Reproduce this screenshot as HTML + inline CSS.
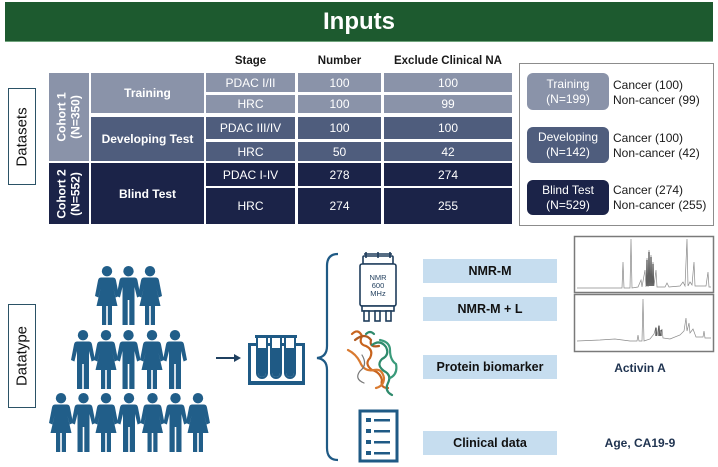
<!DOCTYPE html>
<html><head><meta charset="utf-8"><style>
*{margin:0;padding:0;box-sizing:border-box}
body{width:718px;height:467px;background:#fff;position:relative;overflow:hidden;font-family:"Liberation Sans",Arial,sans-serif}
.a{position:absolute}
.c{position:absolute;display:flex;align-items:center;justify-content:center;color:#fff;font-size:12px;text-align:center;line-height:14px}
.l1{background:#8a93a9}.l2{background:#4f5d7d}.l3{background:#1b2348}
.h{position:absolute;font-weight:bold;font-size:11.5px;color:#1a1a1a;text-align:center;top:55px}
.pill{position:absolute;left:527px;width:82px;border-radius:6px;color:#fff;font-size:12px;line-height:15px;display:flex;align-items:center;justify-content:center;text-align:center}
.lt{position:absolute;left:613px;font-size:12px;line-height:15px;color:#1a1a1a}
.lb{position:absolute;left:423px;width:134px;height:24px;background:#c6ddef;display:flex;align-items:center;justify-content:center;font-weight:bold;font-size:12.5px;color:#111}
.vb{position:absolute;left:8px;width:28px;border:1.5px solid #2b5266;background:#fff}
.vb span{position:absolute;left:50%;top:50%;transform:translate(-50%,-50%) rotate(-90deg);font-size:15px;color:#111;white-space:nowrap}
</style></head><body>
<div class="a" style="left:5px;top:2px;width:708px;height:40px;background:#1d5a2f;border-bottom:1px solid #6fa37c"></div>
<div class="c" style="left:5px;top:2px;width:708px;height:40px;font-size:24px;font-weight:bold">Inputs</div>

<div class="vb" style="top:88px;height:97px"><span>Datasets</span></div>
<div class="vb" style="top:304px;height:104px"><span>Datatype</span></div>

<div class="h" style="left:206px;width:89px">Stage</div>
<div class="h" style="left:298px;width:83px">Number</div>
<div class="h" style="left:380px;width:136px">Exclude Clinical NA</div>

<div class="c l1" style="left:49px;top:73px;width:40px;height:88px"><div style="transform:rotate(-90deg);font-weight:bold;white-space:nowrap;line-height:14px">Cohort 1<br>(N=350)</div></div>
<div class="c l3" style="left:49px;top:163px;width:40px;height:61px"><div style="transform:rotate(-90deg);font-weight:bold;white-space:nowrap;line-height:14px">Cohort 2<br>(N=552)</div></div>

<div class="c l1" style="left:91px;top:73px;width:113px;height:40px;font-weight:bold">Training</div>
<div class="c l2" style="left:91px;top:117px;width:113px;height:44px;font-weight:bold">Developing Test</div>
<div class="c l3" style="left:91px;top:163px;width:113px;height:61px;font-weight:bold">Blind Test</div>

<div class="c l1" style="left:206px;top:73px;width:89px;height:19px">PDAC I/II</div>
<div class="c l1" style="left:298px;top:73px;width:83px;height:19px">100</div>
<div class="c l1" style="left:384px;top:73px;width:128px;height:19px">100</div>
<div class="c l1" style="left:206px;top:95px;width:89px;height:18px">HRC</div>
<div class="c l1" style="left:298px;top:95px;width:83px;height:18px">100</div>
<div class="c l1" style="left:384px;top:95px;width:128px;height:18px">99</div>
<div class="c l2" style="left:206px;top:117px;width:89px;height:22px">PDAC III/IV</div>
<div class="c l2" style="left:298px;top:117px;width:83px;height:22px">100</div>
<div class="c l2" style="left:384px;top:117px;width:128px;height:22px">100</div>
<div class="c l2" style="left:206px;top:142px;width:89px;height:19px">HRC</div>
<div class="c l2" style="left:298px;top:142px;width:83px;height:19px">50</div>
<div class="c l2" style="left:384px;top:142px;width:128px;height:19px">42</div>
<div class="c l3" style="left:206px;top:163px;width:89px;height:23px">PDAC I-IV</div>
<div class="c l3" style="left:298px;top:163px;width:83px;height:23px">278</div>
<div class="c l3" style="left:384px;top:163px;width:128px;height:23px">274</div>
<div class="c l3" style="left:206px;top:188px;width:89px;height:36px">HRC</div>
<div class="c l3" style="left:298px;top:188px;width:83px;height:36px">274</div>
<div class="c l3" style="left:384px;top:188px;width:128px;height:36px">255</div>

<div class="a" style="left:519px;top:63px;width:195px;height:163px;border:1.5px solid #8c8c8c"></div>
<div class="pill l1" style="top:73px;height:37px">Training<br>(N=199)</div>
<div class="pill l2" style="top:127px;height:36px">Developing<br>(N=142)</div>
<div class="pill l3" style="top:180px;height:35px">Blind Test<br>(N=529)</div>
<div class="lt" style="top:78px">Cancer (100)<br>Non-cancer (99)</div>
<div class="lt" style="top:131px">Cancer (100)<br>Non-cancer (42)</div>
<div class="lt" style="top:183px">Cancer (274)<br>Non-cancer (255)</div>

<div class="lb" style="top:259px">NMR-M</div>
<div class="lb" style="top:297px">NMR-M + L</div>
<div class="lb" style="top:355px">Protein biomarker</div>
<div class="lb" style="top:431px">Clinical data</div>
<div class="a" style="left:570px;width:140px;top:361px;text-align:center;font-weight:bold;font-size:12px;color:#1f3350">Activin A</div>
<div class="a" style="left:570px;width:140px;top:436px;text-align:center;font-weight:bold;font-size:12px;color:#1f3350">Age, CA19-9</div>

<svg class="a" style="left:0;top:0" width="718" height="467" viewBox="0 0 718 467">
<defs>
<g id="m" fill="#215e89">
<circle cx="0" cy="5.2" r="5.2"/>
<path d="M-6,11.5 L6,11.5 Q8.5,11.5 9,14.5 L12,30 L8.6,31.5 L6,21 L6,34 L-6,34 L-6,21 L-8.6,31.5 L-12,30 L-9,14.5 Q-8.5,11.5 -6,11.5 Z"/>
<rect x="-6" y="33" width="5.2" height="26"/>
<rect x="0.8" y="33" width="5.2" height="26"/>
</g>
<g id="f" fill="#215e89">
<circle cx="0" cy="5.2" r="5.2"/>
<path d="M-6,11.5 L6,11.5 Q8.5,11.5 9,14.5 L12,30 L8.6,31.5 L6.3,22 L10.5,40 L-10.5,40 L-6.3,22 L-8.6,31.5 L-12,30 L-9,14.5 Q-8.5,11.5 -6,11.5 Z"/>
<rect x="-5" y="39" width="4.2" height="20"/>
<rect x="0.8" y="39" width="4.2" height="20"/>
</g>
</defs>
<use href="#f" x="107" y="266"/><use href="#m" x="128.5" y="266"/><use href="#f" x="150" y="266"/>
<use href="#m" x="83" y="330"/><use href="#f" x="106" y="330"/><use href="#m" x="128.5" y="330"/><use href="#f" x="152" y="330"/><use href="#m" x="175" y="330"/>
<use href="#f" x="61" y="393"/><use href="#m" x="83.5" y="393"/><use href="#f" x="106" y="393"/><use href="#m" x="129" y="393"/><use href="#f" x="152.5" y="393"/><use href="#m" x="175.5" y="393"/><use href="#f" x="198" y="393"/>

<!-- arrow -->
<line x1="216" y1="358" x2="236" y2="358" stroke="#1f4060" stroke-width="2"/>
<path d="M241,358 L234,354 L234,362 Z" fill="#1f4060"/>

<!-- rack -->
<g fill="#1f5a85" stroke="none">
<rect x="248" y="343" width="57" height="3"/>
<rect x="248" y="343" width="3" height="42"/>
<rect x="302" y="343" width="3" height="42"/>
<rect x="248" y="381" width="57" height="4"/>
</g>
<g stroke="#1f5a85" stroke-width="2" fill="#fff">
<path d="M257,337 L257,373 A5,5 0 0 0 267,373 L267,337 Z"/>
<path d="M271,337 L271,373 A5,5 0 0 0 281,373 L281,337 Z"/>
<path d="M285,337 L285,373 A5,5 0 0 0 295,373 L295,337 Z"/>
</g>
<g fill="#1f5a85">
<path d="M258,348 L266,348 L266,373 A4,4 0 0 1 258,373 Z"/>
<path d="M272,348 L280,348 L280,373 A4,4 0 0 1 272,373 Z"/>
<path d="M286,348 L294,348 L294,373 A4,4 0 0 1 286,373 Z"/>
<rect x="255" y="335" width="14" height="3"/><rect x="269" y="335" width="14" height="3"/><rect x="283" y="335" width="14" height="3"/>
</g>

<!-- brace -->
<path d="M338,254 Q327,254 327,266 L327,346 Q327,357 317,358 Q327,359 327,370 L327,448 Q327,460 338,460" fill="none" stroke="#1f5a85" stroke-width="2.2"/>

<!-- NMR magnet -->
<g stroke="#1f3d5c" stroke-width="1.6" fill="#fff">
<rect x="363" y="256" width="30" height="8" rx="1"/>
<rect x="360" y="264" width="36" height="42" rx="2"/>
<rect x="362" y="306" width="32" height="5"/>
<rect x="364" y="311" width="5" height="10"/>
<rect x="375" y="311" width="5" height="10"/>
<rect x="386" y="311" width="5" height="10"/>
</g>
<g stroke="#1f3d5c" stroke-width="1.6" fill="none">
<line x1="366" y1="252" x2="366" y2="258"/><line x1="378" y1="252" x2="378" y2="258"/><line x1="390" y1="252" x2="390" y2="258"/>
<line x1="364" y1="254" x2="392" y2="254"/>
</g>
<text x="378" y="280" font-family="Liberation Sans" font-size="7.5" fill="#1f3d5c" text-anchor="middle">NMR</text>
<text x="378" y="288" font-family="Liberation Sans" font-size="7.5" fill="#1f3d5c" text-anchor="middle">600</text>
<text x="378" y="296" font-family="Liberation Sans" font-size="7.5" fill="#1f3d5c" text-anchor="middle">MHz</text>

<!-- protein -->
<g fill="none" stroke-width="2.2" stroke-linecap="round">
<path d="M352,334 q6,-6 10,2 q-4,8 4,10 q8,4 4,12 q-6,6 2,12 q8,2 10,10 q-2,8 6,8" stroke="#c8641e"/>
<path d="M348,350 q8,4 12,12 q4,10 14,8 q8,-2 10,8 q0,8 -8,10" stroke="#d97a30"/>
<path d="M355,340 q10,-8 16,0 q-2,8 8,6" stroke="#b05a20"/>
<path d="M372,345 q8,-6 14,2 q4,8 -4,12 q-6,6 2,12 q8,4 4,12 q-4,8 4,12" stroke="#2e8a6c"/>
<path d="M380,340 q10,2 10,10 q0,10 6,14 q2,10 -6,14" stroke="#3a9a7a"/>
<path d="M362,355 q6,10 -2,16 q-6,8 4,12" stroke="#777" stroke-width="1.2"/>
<path d="M366,334 q4,-4 8,0" stroke="#2e8a6c"/>
</g>

<!-- document -->
<rect x="360" y="411" width="37" height="50" fill="#fff" stroke="#1f5a85" stroke-width="3"/>
<g fill="#1f5a85">
<rect x="366" y="418" width="5" height="4"/><rect x="374" y="419" width="16" height="2.5"/>
<rect x="366" y="429" width="5" height="4"/><rect x="374" y="430" width="16" height="2.5"/>
<rect x="366" y="440" width="5" height="4"/><rect x="374" y="441" width="16" height="2.5"/>
<rect x="366" y="451" width="5" height="4"/><rect x="374" y="452" width="16" height="2.5"/>
</g>

<!-- spectra -->
<rect x="574.5" y="236.5" width="139" height="56" fill="#fff" stroke="#7a7a7a" stroke-width="1.5"/>
<rect x="574.5" y="294.5" width="139" height="57" fill="#fff" stroke="#7a7a7a" stroke-width="1.5"/>
<g stroke="#8a8a8a" stroke-width="0.7" fill="none">
<polyline points="577,288 622,288 623,262 624,288 630,288 631,239 632,288 638,287 641,280 642,287 645,270 646,287 647,258 648,287 649,250 650,286 651,255 652,286 653,262 654,286 656,270 657,287 665,287 667,283 669,287 680,286 683,282 685,286 687,239 688,286 690,282 692,285 694,262 695,286 706,286 708,272 709,287 711,287"/>
<polyline points="577,341 600,340 615,339 630,341 637,341 638,335 639,341 642,341 643,299 644,341 650,339 654,334 656,327 657,336 659,325 660,336 662,329 663,338 670,339 680,335 684,331 686,318 687,331 689,323 690,333 693,329 696,337 703,337 704,331 705,338 711,338"/>
</g>
<g stroke="#444" stroke-width="1.2" fill="none">
<path d="M647,286 L647,260 M649,286 L649,252 M651,286 L651,257 M653,286 L653,264"/>
<path d="M656,336 L656,328 M659,336 L659,326 M661,336 L661,330"/>
</g>
</svg>
</body></html>
